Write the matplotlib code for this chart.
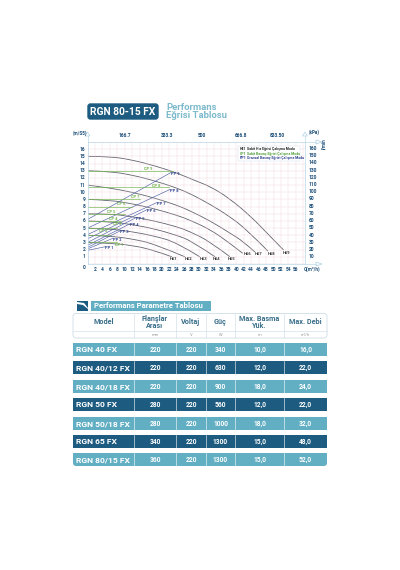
import matplotlib
matplotlib.use("Agg")
import matplotlib.pyplot as plt
from matplotlib.patches import Rectangle, FancyBboxPatch, Polygon, PathPatch
from matplotlib.path import Path

plt.rcParams['font.family'] = ['Roboto', 'DejaVu Sans']

W, H = 400, 570

# curves: flow (m3/h), head (m)
h1_x = [0, 6, 12, 18, 22.7]
h1_y = [3, 2.9, 2.6, 1.9, 1.0]
h2_x = [0, 6, 12, 18, 26.2]
h2_y = [4, 3.9, 3.5, 2.8, 1.0]
h3_x = [0, 6, 12, 18, 24, 30.2]
h3_y = [5, 4.9, 4.5, 3.9, 3.0, 1.0]
h4_x = [0, 6, 12, 18, 24, 28, 34.3]
h4_y = [6, 5.9, 5.5, 4.9, 4.0, 3.2, 1.0]
h5_x = [0, 6, 12, 18, 24, 27.6, 33, 38.3]
h5_y = [7, 7, 6.6, 6.0, 5.2, 4.5, 3.1, 1.0]
h6_x = [0, 6, 12, 18, 24, 27.6, 33, 38, 41.7]
h6_y = [9, 8.9, 8.4, 7.7, 6.8, 6.1, 4.8, 3.0, 1.5]
h7_x = [0, 6, 12, 18, 24, 27.6, 33, 38, 42, 45]
h7_y = [11, 10.6, 10.0, 9.2, 8.2, 7.4, 6.0, 4.4, 3.1, 1.67]
h8_x = [0, 6, 12, 18, 24, 28, 33, 38, 43, 48.5]
h8_y = [13, 12.9, 12.4, 11.6, 10.6, 9.7, 8.3, 6.7, 4.7, 1.8]
h9_x = [0, 6, 12, 18, 24, 29, 33, 38, 44, 49, 52.7]
h9_y = [15, 15, 14.5, 13.7, 12.7, 11.6, 10.8, 9.2, 6.6, 3.9, 1.95]
curves = [(h1_x, h1_y), (h2_x, h2_y), (h3_x, h3_y), (h4_x, h4_y), (h5_x, h5_y),
          (h6_x, h6_y), (h7_x, h7_y), (h8_x, h8_y), (h9_x, h9_y)]
h_names = ['H51', 'H52', 'H53', 'H54', 'H55', 'H56', 'H57', 'H58', 'H59']
h_lab_x = [23.2, 27.3, 31.3, 34.8, 38.8, 43.1, 46.1, 49.6, 53.4]
h_lab_y = [0.7, 0.7, 0.7, 0.7, 0.7, 1.4, 1.4, 1.4, 1.6]

pp_start = [1.9, 2.1, 2.3, 2.6, 3.0, 3.5, 4.1, 5.0, 6.2]
pp_end_x = [4.7, 6.9, 8.7, 11.4, 13.2, 16.1, 18.8, 22.2, 22.6]
pp_end_y = [2.4, 3.6, 4.6, 5.6, 6.5, 7.6, 8.6, 10.4, 12.8]
pp_names = ['PP 1', 'PP 2', 'PP 3', 'PP 4', 'PP 5', 'PP 6', 'PP 7', 'PP 8', 'PP 9']

cp_y = [3, 4, 5, 6, 7, 8, 9, 10.7, 13]
cp_end = [8, 6, 8, 9, 10, 12, 14, 22, 23]
cp_lab_x = [8.5, 4.2, 8.1, 6.9, 6.4, 9.2, 12.8, 18.4, 16.4]
cp_lab_y = [2.7, 4.6, 5.6, 6.3, 7.3, 8.3, 9.3, 10.9, 13.3]
cp_names = ['CP 1', 'CP 2', 'CP 3', 'CP 4', 'CP 5', 'CP 6', 'CP 7', 'CP 8', 'CP 9']

x_ticks = list(range(2, 58, 2))
y_ticks = list(range(1, 17))
kpa_ticks = list(range(10, 170, 10))
top_pos = [10, 21.4, 30.8, 41.3, 50.9]
top_labels = ['166.7', '333.3', '500', '666.8', '833.50']

legend_rows = [('H51', 'Sabit Hız Eğrisi Çalışma Modu', '#222222'),
               ('CP1', 'Sabit Basınç Eğrisi Çalışma Modu', '#4f9f3a'),
               ('PP1', 'Oransal Basınç Eğrisi Çalışma Modu', '#2b3f8f')]

# table
columns = ['Model', 'Flanşlar\nArası', 'Voltaj', 'Güç', 'Max. Basma\nYük.', 'Max. Debi']
units = ['', 'mm', 'V', 'W', 'm', 'm³/h']
models = ['RGN 40 FX', 'RGN 40/12 FX', 'RGN 40/18 FX', 'RGN 50 FX', 'RGN 50/18 FX', 'RGN 65 FX', 'RGN 80/15 FX']
flanges = ['220', '220', '220', '280', '280', '340', '360']
voltage = ['220', '220', '220', '220', '220', '220', '220']
power = ['340', '630', '900', '560', '1000', '1300', '1300']
max_head = ['10,0', '12,0', '18,0', '12,0', '18,0', '15,0', '15,0']
max_flow = ['16,0', '22,0', '24,0', '22,0', '32,0', '48,0', '52,0']

TEAL = '#62aec3'
DARK = '#1d5c80'
BLUE = '#4f62a8'
GREEN = '#6fb54a'
TICK = '#1d4f78'


def smooth_curve(xs, ys):
    # quadratic pieces through the midpoints, the read points act as controls
    pts = list(zip(xs, ys))
    verts = [pts[0]]
    codes = [Path.MOVETO]
    for i in range(1, len(pts) - 1):
        end = pts[i + 1] if i == len(pts) - 2 else ((pts[i][0] + pts[i + 1][0]) / 2, (pts[i][1] + pts[i + 1][1]) / 2)
        verts += [pts[i], end]
        codes += [Path.CURVE3, Path.CURVE3]
    return Path(verts, codes)


fig = plt.figure(figsize=(W / 100, H / 100), dpi=100, facecolor='white')

# whole page axes in pixels for the header and the table
pg = fig.add_axes([0, 0, 1, 1])
pg.set_xlim(0, W)
pg.set_ylim(H, 0)
pg.axis('off')

pg.add_patch(FancyBboxPatch((88, 104), 70, 15, boxstyle='round,pad=0,rounding_size=2.5', fc=DARK, ec=DARK, lw=1))
pg.text(123, 111.7, 'RGN 80-15 FX', color='white', fontsize=7.4, fontweight='bold', ha='center', va='center')
pg.text(166, 107, 'Performans', color='#7dbacc', fontsize=6.8, fontweight='bold', va='center')
pg.text(166, 116, 'Eğrisi Tablosu', color='#7dbacc', fontsize=6.8, fontweight='bold', va='center')

# chart
L, R, T, B = 87.5, 305, 142, 264
ax = fig.add_axes([L / W, 1 - B / H, (R - L) / W, (B - T) / H])
ax.set_xlim(0, (R - L) / 3.72)
ax.set_ylim(0, (B - T) / 7.18)
ax.patch.set_alpha(0)
ax.set_xticks(range(0, 60, 2))
ax.set_yticks(range(0, 18))
ax.grid(True, color='#eec9d2', lw=0.35, ls=(0, (2, 1)))
ax.tick_params(length=0, labelleft=False, labelbottom=False)
for side in ax.spines:
    ax.spines[side].set_color('#b9d7e6')
    ax.spines[side].set_linewidth(0.5)

for (cx, cy) in curves:
    ax.add_patch(PathPatch(smooth_curve(cx, cy), fc='none', ec='#5f626c', lw=0.6))
for s, ex, ey in zip(pp_start, pp_end_x, pp_end_y):
    ax.plot([0, ex], [s, ey], color=BLUE, lw=0.45)
for cy, ce in zip(cp_y, cp_end):
    ax.plot([0, ce], [cy, cy], color=GREEN, lw=0.45)

for name, lx, ly in zip(cp_names, cp_lab_x, cp_lab_y):
    ax.text(lx, ly, name, color=GREEN, fontsize=2.9, fontweight='bold', ha='center', va='center')
for name, ex, ey in zip(pp_names, pp_end_x, pp_end_y):
    ax.text(ex + 1.1, ey - 0.2, name, color='#2b3f8f', fontsize=2.9, fontweight='bold', ha='center', va='center')
for name, lx, ly in zip(h_names, h_lab_x, h_lab_y):
    ax.text(lx, ly, name, color='#333333', fontsize=3, fontweight='bold', ha='center', va='center')

for t in x_ticks:
    ax.text(t, -0.77, str(t), color=TICK, fontsize=3.5, fontweight='bold', ha='center', va='center', clip_on=False)
for t in y_ticks:
    ax.text(-0.55, t, str(t), color=TICK, fontsize=3.5, fontweight='bold', ha='right', va='center', clip_on=False)
ax.text(-0.55, -0.42, '0', color=TICK, fontsize=3.5, fontweight='bold', ha='right', va='center', clip_on=False)
for t, lab in zip(top_pos, top_labels):
    ax.text(t, 17.87, lab, color=TICK, fontsize=3.5, fontweight='bold', ha='center', va='center', clip_on=False)

pg.set_zorder(3)

# kPa side
for t in kpa_ticks:
    pg.text(308.5, 264 - t * 0.723, str(t), color=TICK, fontsize=3.5, fontweight='bold', va='center')
pg.text(73, 132.7, '(m/S5)', color=TICK, fontsize=3.3, fontweight='bold', va='center')
pg.text(309, 132, '(kPa)', color=TICK, fontsize=3.3, fontweight='bold', va='center')
pg.text(324, 144, 'l/min', color=TICK, fontsize=3.3, fontweight='bold', va='center', ha='center', rotation=90)
pg.text(304, 269.5, 'Q(m³/h)', color=TICK, fontsize=3.3, fontweight='bold', va='center')
pg.plot([305, 316], [142, 142], color='#b9d7e6', lw=0.5)
pg.plot([305, 316], [264, 264], color='#b9d7e6', lw=0.5)
pg.plot([87.5, 87.5], [136, 142], color='#b9d7e6', lw=0.5)
pg.plot([305, 305], [136, 142], color='#b9d7e6', lw=0.5)
pg.add_patch(Polygon([[316, 140], [322, 142], [316, 144]], fc='white', ec='#9cc6da', lw=0.4))
pg.add_patch(Polygon([[316, 262], [322, 264], [316, 266]], fc='white', ec='#9cc6da', lw=0.4))
pg.add_patch(Polygon([[85, 136], [87.5, 132], [90, 136]], fc='white', ec='#9cc6da', lw=0.4))
pg.add_patch(Polygon([[302.5, 136], [305, 132], [307.5, 136]], fc='white', ec='#9cc6da', lw=0.4))

# legend box sits on top of the grid
pg.add_patch(Rectangle((238, 146), 62, 15, fc='white', ec='#cfe2ea', lw=0.3))
for i, (code, txt, col) in enumerate(legend_rows):
    y = 149 + i * 4.6
    pg.text(240, y, code, color=col, fontsize=2.5, fontweight='bold', va='center')
    pg.text(247, y, txt, color=col, fontsize=2.5, fontweight='bold', va='center')

# table title
pg.add_patch(Rectangle((77, 301), 11, 10, fc=DARK, ec='none'))
pg.add_patch(Polygon([[77, 302], [84, 303], [88, 308], [88, 309], [83, 305], [77, 304]], fc='white', ec='none'))
pg.add_patch(Rectangle((91, 301), 120, 9.5, fc=TEAL, ec='none'))
pg.text(94, 306, 'Performans Parametre Tablosu', color='white', fontsize=5.6, fontweight='bold', va='center')

# table header
col_x = [73, 134, 176, 206, 235, 284, 327]
pg.add_patch(FancyBboxPatch((73, 313.5), 254, 24.5, boxstyle='round,pad=0,rounding_size=3', fc='white', ec='#d4e2e8', lw=0.7))
pg.plot([73, 327], [331, 331], color='#d4e2e8', lw=0.5)
for cx in col_x[1:-1]:
    pg.plot([cx, cx], [314, 338], color='#d4e2e8', lw=0.5)
for i, (c, u) in enumerate(zip(columns, units)):
    xm = (col_x[i] + col_x[i + 1]) / 2
    pg.text(xm, 322.5, c, color='#3a6f8a', fontsize=5.2, fontweight='bold', ha='center', va='center', linespacing=0.95)
    if u:
        pg.text(xm, 334.5, u, color='#9a9a9a', fontsize=3, ha='center', va='center')

# table rows, the last one has rounded bottom corners
row_top = [343, 361, 380, 398, 417, 435, 453]
for i, top in enumerate(row_top):
    col = DARK if i % 2 else TEAL
    if i == len(row_top) - 1:
        pg.add_patch(FancyBboxPatch((73, top), 254, 13, boxstyle='round,pad=0,rounding_size=3', fc=col, ec='none'))
        pg.add_patch(Rectangle((73, top), 254, 5, fc=col, ec='none'))
    else:
        pg.add_patch(Rectangle((73, top), 254, 13, fc=col, ec='none'))
    pg.text(76, top + 6.7, models[i], color='white', fontsize=6.1, fontweight='bold', va='center')
    vals = [flanges[i], voltage[i], power[i], max_head[i], max_flow[i]]
    for j, v in enumerate(vals):
        xm = (col_x[j + 1] + col_x[j + 2]) / 2
        pg.text(xm, top + 6.7, v, color='white', fontsize=4.8, fontweight='bold', ha='center', va='center')
    for cx in col_x[1:-1]:
        pg.plot([cx, cx], [top, top + 13], color='white', lw=0.5, alpha=0.8)

fig.savefig('out.png', dpi=100, facecolor='white')
